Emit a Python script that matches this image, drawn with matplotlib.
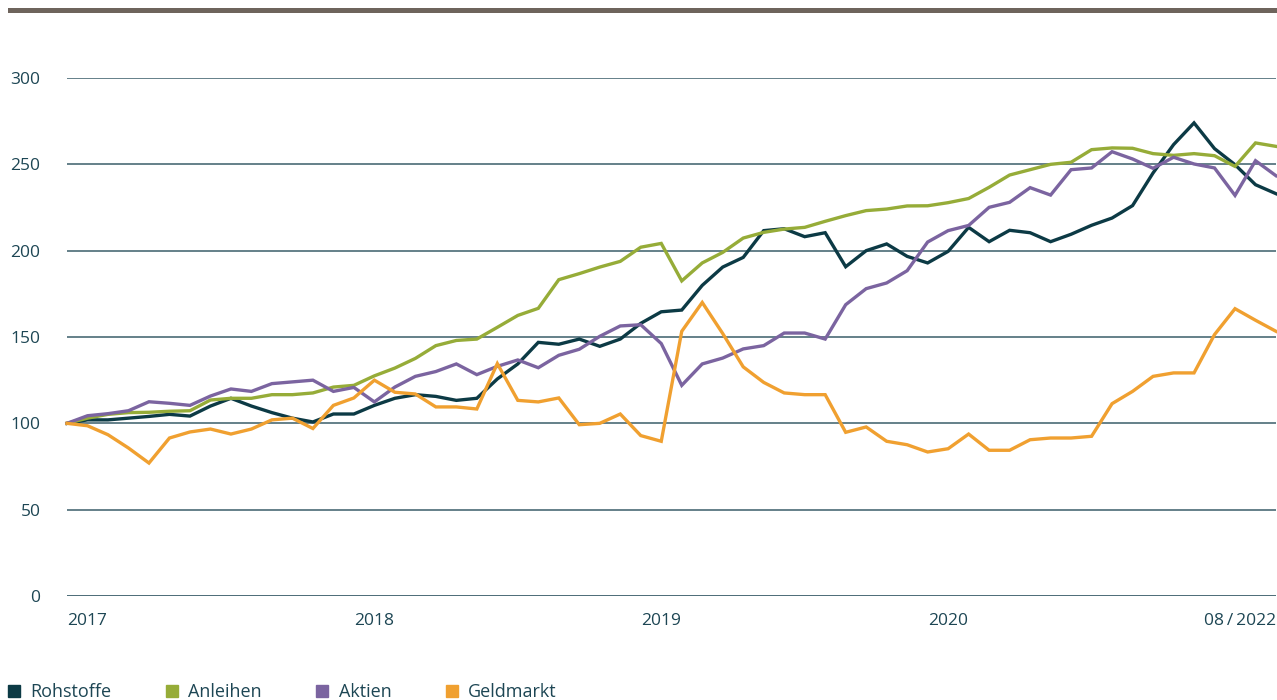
"""
Indexed performance of asset classes, 2017 to 08/2022 (start = 100).
"""

import matplotlib

matplotlib.use("Agg")
import matplotlib.pyplot as plt  # noqa: E402
from matplotlib.lines import Line2D  # noqa: E402
from matplotlib.patches import Rectangle  # noqa: E402

plt.rcParams["font.family"] = ["Open Sans", "DejaVu Sans"]

series_names = ["Rohstoffe", "Anleihen", "Aktien", "Geldmarkt"]

rohstoffe = [
    100, 102, 102, 103, 104, 105.2, 104.2, 110, 114.5, 110,
    106.2, 103, 100.8, 105.4, 105.4, 110.4, 114.5, 116.6, 115.6, 113.3,
    114.5, 125.7, 134.4, 146.9, 145.8, 148.8, 144.6, 148.8, 157.9, 164.6,
    165.6, 179.9, 190.5, 196.1, 211.6, 212.7, 208.1, 210.4, 190.7, 200,
    203.9, 196.7, 192.9, 199.6, 213.5, 205.2, 211.8, 210.4, 205.2, 209.5,
    214.7, 218.9, 226.1, 245, 261.4, 274, 259.1, 249.8, 238.2, 233,
]
anleihen = [
    100, 103, 105.2, 106.2, 106.4, 107, 107.3, 113.5, 114.5, 114.5,
    116.6, 116.6, 117.6, 121, 122, 127.5, 132, 137.6, 145, 148,
    148.8, 155.6, 162.5, 166.6, 183.2, 186.7, 190.5, 193.8, 202, 204.2,
    182.5, 192.9, 199, 207.3, 210.6, 212.5, 213.5, 217, 220.3, 223.2,
    224.1, 225.9, 226, 227.8, 230.2, 236.7, 243.8, 246.9, 250, 251.2,
    258.5, 259.5, 259.3, 256.2, 255.2, 256.2, 255, 248.8, 262.4, 260.4,
]
aktien = [
    100, 104.4, 105.6, 107.3, 112.5, 111.6, 110.4, 115.8, 119.9, 118.5,
    123, 124, 125, 118.5, 120.8, 112.4, 121, 127.2, 130, 134.4,
    128.2, 133, 136.7, 132.2, 139.4, 142.9, 150.4, 156.4, 157.1, 146.2,
    122, 134.4, 137.8, 143.1, 145, 152.3, 152.3, 148.8, 168.7, 178,
    181.3, 188.4, 205, 211.6, 214.6, 225.1, 228, 236.5, 232.2, 246.9,
    247.9, 257.3, 253.1, 247.7, 254.1, 250.2, 247.9, 232, 252.1, 243.4,
]
geldmarkt = [
    100, 98.6, 93.4, 85.7, 77, 91.5, 95, 96.7, 93.8, 96.7,
    102, 103, 97, 110.4, 114.7, 125, 118, 117, 109.5, 109.5,
    108.3, 134.6, 113.3, 112.4, 114.7, 99.2, 100, 105.4, 92.9, 89.6,
    153.3, 170, 152, 132.7, 123.7, 117.6, 116.6, 116.6, 94.8, 97.9,
    89.6, 87.6, 83.4, 85.3, 93.8, 84.4, 84.4, 90.5, 91.5, 91.5,
    92.5, 111.4, 118.5, 127.2, 129.2, 129.2, 151.4, 166.4, 159.7, 153.3,
]

x_tick_pos = [0, 15, 29, 43, 59]
x_tick_labels = ["2017", "2018", "2019", "2020", "08\u2009/\u20092022"]
y_ticks = [0, 50, 100, 150, 200, 250, 300]

colors = ["#0c3a45", "#96ac38", "#7b64a0", "#f0a030"]
text_color = "#1d4654"
grid_color = "#3b5e6a"

fig = plt.figure(figsize=(12.77, 7.0), dpi=100)
ax = fig.add_axes([67 / 1277, 104 / 700, 1209 / 1277, 518 / 700])

for y in y_ticks:
    ax.axhline(y, color=grid_color, lw=2.0 if y == 0 else 1.1, zorder=1)

for name, values, color in zip(series_names, [rohstoffe, anleihen, aktien, geldmarkt], colors):
    ax.plot(range(len(values)), values, color=color, lw=2.4, label=name,
            solid_joinstyle="miter", clip_on=False, zorder=3)

ax.set_xlim(0, 59)
ax.set_ylim(0, 300)
ax.set_yticks(y_ticks)
ax.set_xticks(x_tick_pos)
ax.set_xticklabels(x_tick_labels)
ax.tick_params(axis="both", length=0, labelsize=12.5, colors=text_color)
ax.tick_params(axis="y", pad=19)
ax.tick_params(axis="x", pad=12)
labels = ax.get_xticklabels()
labels[0].set_ha("left")
labels[-1].set_ha("right")

for spine in ax.spines.values():
    spine.set_visible(False)

# header bar across the top
fig.add_artist(Rectangle((8 / 1277, 1 - 13 / 700), 1 - 8 / 1277, 5 / 700,
                         transform=fig.transFigure, color="#6e645c", lw=0))

handles = [Line2D([], [], marker="s", ls="none", markersize=8.5, color=c) for c in colors]
fig.legend(handles, series_names, loc="center left", bbox_to_anchor=(7 / 1277, 8 / 700),
           ncol=4, frameon=False, fontsize=13, labelcolor=text_color,
           handlelength=0.8, handletextpad=0.5, columnspacing=2.95,
           borderpad=0, borderaxespad=0)

fig.savefig("out.png", dpi=100)
plt.close(fig)
